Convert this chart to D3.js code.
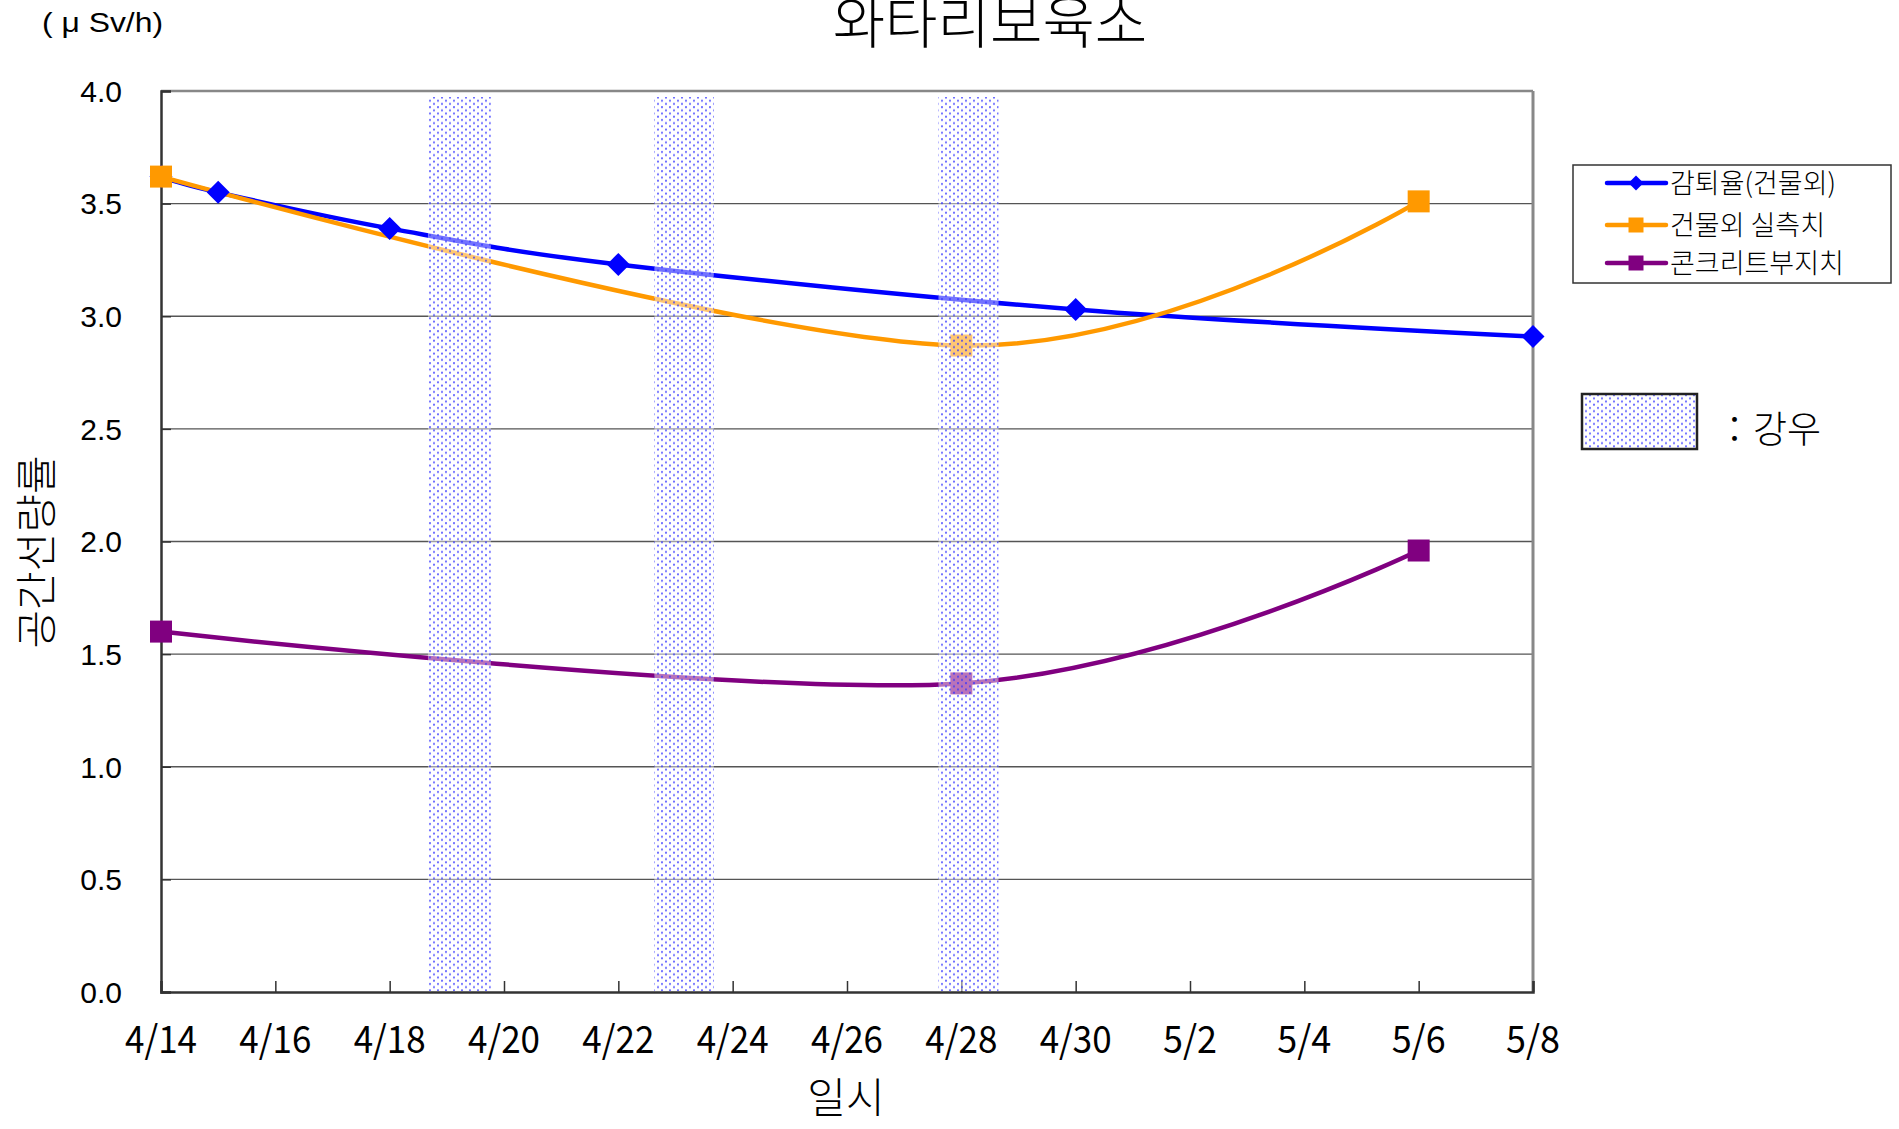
<!DOCTYPE html>
<html><head><meta charset="utf-8">
<script src="https://cdn.jsdelivr.net/npm/d3@7"></script>
<style>html,body{margin:0;padding:0;background:#fff;}svg{display:block;}</style>
</head><body>
<svg id="chart" width="1899" height="1129"></svg>
<script>
// ---------- data ----------
const chartTitle = "와타리보육소";
const unitLabel = "( μ Sv/h)";
const yTitle = "공간선량률";
const xTitle = "일시";
const seriesNames = ["감퇴율(건물외)", "건물외 실측치", "콘크리트부지치"];
const seriesColors = ["#0000FF", "#FF9900", "#800080"];
const decayDates = ["4/14", "4/15", "4/18", "4/22", "4/30", "5/8"];
const decayValues = [3.62, 3.55, 3.39, 3.23, 3.03, 2.91];
const measuredDates = ["4/14", "4/28", "5/6"];
const outdoorValues = [3.62, 2.87, 3.51];
const concreteValues = [1.60, 1.37, 1.96];
// rain periods: start / end in days after 4/14
const rainStart = [4.67, 8.63, 13.60];
const rainEnd = [5.77, 9.67, 14.65];
const rainLabel = "：강우";
const xTickLabels = ["4/14","4/16","4/18","4/20","4/22","4/24","4/26","4/28","4/30","5/2","5/4","5/6","5/8"];
const yTicks = [0, 0.5, 1.0, 1.5, 2.0, 2.5, 3.0, 3.5, 4.0];

// ---------- helpers ----------
const monthStart = {4: 0, 5: 30};
function dayIndex(s) { const [m, d] = s.split("/").map(Number); return monthStart[m] + d - 14; }

const svg = d3.select("#chart");
const L = 161, R = 1533, T = 91, B = 992;
const x = d3.scaleLinear().domain([0, 24]).range([L, R]);
const y = d3.scaleLinear().domain([0, 4]).range([B, T]);
const KR = "Noto Sans CJK KR, sans-serif";

// pattern
const defs = svg.append("defs");
const pat = defs.append("pattern").attr("id", "dots").attr("patternUnits", "userSpaceOnUse")
  .attr("width", 8).attr("height", 6.4);
pat.append("circle").attr("cx", 2).attr("cy", 1.6).attr("r", 1.05).attr("fill", "#3030ff").attr("opacity", 0.75);
pat.append("circle").attr("cx", 6).attr("cy", 4.8).attr("r", 1.05).attr("fill", "#3030ff").attr("opacity", 0.75);

// gridlines
svg.append("g").selectAll("line").data(yTicks.filter(v => v > 0 && v < 4)).join("line")
  .attr("x1", L).attr("x2", R).attr("y1", d => y(d)).attr("y2", d => y(d))
  .attr("stroke", "#555").attr("stroke-width", 1.3);

// frame
svg.append("line").attr("x1", L).attr("x2", R).attr("y1", T).attr("y2", T).attr("stroke", "#888").attr("stroke-width", 2.5);
svg.append("line").attr("x1", R).attr("x2", R).attr("y1", T).attr("y2", B).attr("stroke", "#888").attr("stroke-width", 3);

// axes
const yAxis = d3.axisRight(y).tickValues(yTicks).tickSize(10).tickFormat("");
svg.append("g").attr("transform", `translate(${L},0)`).call(yAxis)
  .call(g => g.select(".domain").attr("stroke", "#333").attr("stroke-width", 2.5))
  .call(g => g.selectAll(".tick line").attr("stroke", "#333").attr("stroke-width", 1.5));
const xTickVals = xTickLabels.map(dayIndex);
const xAxis = d3.axisTop(x).tickValues(xTickVals).tickSize(11).tickFormat("");
svg.append("g").attr("transform", `translate(0,${B})`).call(xAxis)
  .call(g => g.select(".domain").attr("stroke", "#333").attr("stroke-width", 2.5))
  .call(g => g.selectAll(".tick line").attr("stroke", "#333").attr("stroke-width", 1.5));

// y tick labels
svg.append("g").selectAll("text").data(yTicks).join("text")
  .attr("x", 122).attr("y", d => y(d)).attr("dy", "0.36em")
  .attr("text-anchor", "end").attr("font-family", "Liberation Sans, Arial, sans-serif")
  .attr("font-size", 30).attr("fill", "#000").text(d => d.toFixed(1));

// x tick labels
svg.append("g").selectAll("text").data(xTickLabels).join("text")
  .attr("x", d => x(dayIndex(d))).attr("y", 1053)
  .attr("text-anchor", "middle").attr("font-family", "Noto Sans CJK JP, sans-serif")
  .attr("font-size", 38).attr("fill", "#000")
  .attr("textLength", d => d.length * 18).attr("lengthAdjust", "spacingAndGlyphs")
  .text(d => d);

// lines
const lineGen = d3.line().x(d => x(d[0])).y(d => y(d[1])).curve(d3.curveCardinal.tension(0));
const decayPts = decayDates.map((d, i) => [dayIndex(d), decayValues[i]]);
const outdoorPts = measuredDates.map((d, i) => [dayIndex(d), outdoorValues[i]]);
const concretePts = measuredDates.map((d, i) => [dayIndex(d), concreteValues[i]]);

const seriesPts = [decayPts, outdoorPts, concretePts];
const diamond = d3.symbol().type(d3.symbolSquare).size(265);
const square = d3.symbol().type(d3.symbolSquare).size(484);

seriesPts.forEach((pts, i) => {
  svg.append("path").datum(pts).attr("d", lineGen).attr("fill", "none")
    .attr("stroke", seriesColors[i]).attr("stroke-width", 4.5);
});
seriesPts.forEach((pts, i) => {
  svg.append("g").selectAll("path").data(pts).join("path")
    .attr("d", i === 0 ? diamond : square)
    .attr("transform", d => `translate(${x(d[0])},${y(d[1])})` + (i === 0 ? " rotate(45)" : ""))
    .attr("fill", seriesColors[i]);
});

// rain bands (drawn over the lines)
const bands = svg.append("g");
rainStart.forEach((s, i) => {
  bands.append("rect").attr("x", x(s)).attr("width", x(rainEnd[i]) - x(s))
    .attr("y", T + 6).attr("height", B - T - 7).attr("fill", "#fff").attr("opacity", 0.45);
  bands.append("rect").attr("x", x(s)).attr("width", x(rainEnd[i]) - x(s))
    .attr("y", T + 6).attr("height", B - T - 7).attr("fill", "url(#dots)");
});

// titles
svg.append("text").attr("x", 990).attr("y", 43).attr("text-anchor", "middle")
  .attr("font-family", KR).attr("font-weight", 300).attr("font-size", 57).attr("fill", "#000")
  .text(chartTitle);
svg.append("text").attr("x", 42).attr("y", 32)
  .attr("font-family", "Liberation Sans, Arial, sans-serif").attr("font-size", 27).attr("fill", "#000")
  .attr("textLength", 121).attr("lengthAdjust", "spacingAndGlyphs")
  .text(unitLabel);
svg.append("text").attr("transform", "translate(37,552) rotate(-90)").attr("text-anchor", "middle")
  .attr("dy", "0.36em")
  .attr("font-family", KR).attr("font-weight", 300).attr("font-size", 42).attr("fill", "#000")
  .text(yTitle);
svg.append("text").attr("x", 846).attr("y", 1113).attr("text-anchor", "middle")
  .attr("font-family", KR).attr("font-weight", 300).attr("font-size", 42).attr("fill", "#000")
  .text(xTitle);

// legend
svg.append("rect").attr("x", 1573).attr("y", 165).attr("width", 318).attr("height", 118)
  .attr("fill", "#fff").attr("stroke", "#333").attr("stroke-width", 1.5);
const legY = [183, 225, 263];
const legDiamond = d3.symbol().type(d3.symbolSquare).size(112);
const legSquare = d3.symbol().type(d3.symbolSquare).size(225);
seriesNames.forEach((name, i) => {
  svg.append("line").attr("x1", 1607).attr("x2", 1666).attr("y1", legY[i]).attr("y2", legY[i])
    .attr("stroke", seriesColors[i]).attr("stroke-width", 4.5).attr("stroke-linecap", "round");
  svg.append("path").attr("d", i === 0 ? legDiamond : legSquare)
    .attr("transform", `translate(1636,${legY[i]})` + (i === 0 ? " rotate(45)" : ""))
    .attr("fill", seriesColors[i]);
  svg.append("text").attr("x", 1670).attr("y", legY[i] + 10)
    .attr("font-family", KR).attr("font-weight", 300).attr("font-size", 27).attr("fill", "#000")
    .text(name);
});

// rain legend
svg.append("rect").attr("x", 1582).attr("y", 394).attr("width", 115).attr("height", 55)
  .attr("fill", "#fff").attr("stroke", "none");
svg.append("rect").attr("x", 1582).attr("y", 394).attr("width", 115).attr("height", 55)
  .attr("fill", "url(#dots)").attr("stroke", "#222").attr("stroke-width", 2.5);
svg.append("text").attr("x", 1716).attr("y", 443)
  .attr("font-family", KR).attr("font-weight", 300).attr("font-size", 37).attr("fill", "#000")
  .text(rainLabel);
</script>
</body></html>
